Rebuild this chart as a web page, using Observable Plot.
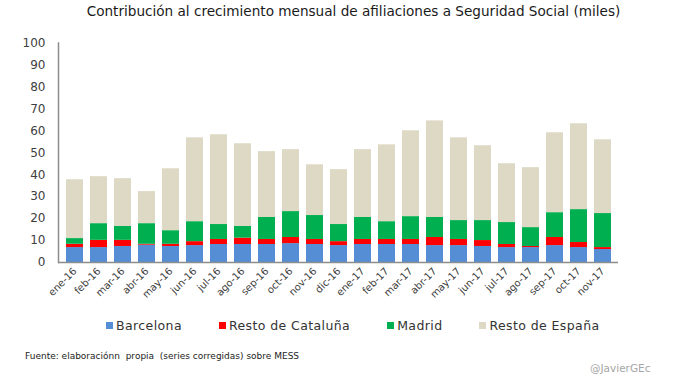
<!DOCTYPE html>
<html><head><meta charset="utf-8">
<script src="https://cdn.jsdelivr.net/npm/d3@7"></script>
<script src="https://cdn.jsdelivr.net/npm/@observablehq/plot@0.6"></script>
<style>
body{margin:0;width:677px;height:378px;position:relative;background:#fff;font-family:"DejaVu Sans",sans-serif;overflow:hidden;color:#262626}
#title{position:absolute;top:3px;left:30px;width:647px;text-align:center;font-size:13.6px;color:#1a1a1a;white-space:nowrap}
#chart{position:absolute;top:25px;left:0}
#legend{position:absolute;top:318px;left:106px;display:flex;gap:37px;font-size:12.5px;color:#333;white-space:nowrap;letter-spacing:0.4px}
#legend .it{display:flex;align-items:center;gap:3px}
#legend .sw{width:7px;height:7px;display:inline-block}
#src{position:absolute;top:351px;left:25px;font-size:9px;color:#222;white-space:nowrap}
#cred{position:absolute;top:362px;left:590px;font-size:10.5px;color:#a6a6a6;white-space:nowrap}
</style></head>
<body>
<div id="title">Contribución al crecimiento mensual de afiliaciones a Seguridad Social (miles)</div>
<div id="chart"></div>
<div id="legend"></div>
<div id="src">Fuente: elaboraciónn&nbsp; propia&nbsp; (series corregidas) sobre MESS</div>
<div id="cred">@JavierGEc</div>
<script>
const months = ["ene-16","feb-16","mar-16","abr-16","may-16","jun-16","jul-16","ago-16","sep-16","oct-16","nov-16","dic-16","ene-17","feb-17","mar-17","abr-17","may-17","jun-17","jul-17","ago-17","sep-17","oct-17","nov-17"];
const series = ["Barcelona","Resto de Cataluña","Madrid","Resto de España"];
const colors = ["#558ED5","#FF0000","#00B050","#DDD9C4"];
const barcelona = [6.8,6.8,7.3,7.9,7.3,7.7,8.2,8.2,8.2,8.6,8.2,7.7,8.2,8.2,8.2,7.7,7.7,7.3,6.8,6.8,7.7,6.8,5.9];
const restoCataluna = [1.5,3.3,2.8,0.4,1.0,1.8,2.3,2.9,2.3,2.8,2.3,1.8,2.3,2.3,2.3,3.7,2.8,2.7,1.4,0.5,3.7,2.3,0.9];
const madrid = [2.6,7.6,6.3,9.4,6.2,9.1,6.8,5.3,10.0,11.8,10.9,7.8,10.0,8.1,10.4,9.1,8.6,9.1,10.0,8.6,11.3,15.0,15.5];
const restoEspana = [26.8,21.4,21.8,14.6,28.2,38.2,40.9,37.7,30.0,28.2,23.1,25.0,30.9,35.0,39.1,44.0,37.7,34.1,26.8,27.3,36.4,39.1,33.6];
const yTicks = [0,10,20,30,40,50,60,70,80,90,100];

const cols = [barcelona, restoCataluna, madrid, restoEspana];
const data = [];
series.forEach((s, i) => months.forEach((m, j) => data.push({month: m, series: s, value: cols[i][j]})));

const chart = Plot.plot({
  width: 677,
  height: 290,
  marginTop: 17.5,
  marginBottom: 53,
  marginLeft: 58,
  marginRight: 59,
  style: {fontFamily: '"DejaVu Sans", sans-serif', background: "transparent"},
  x: {domain: months, paddingInner: 0.3, paddingOuter: 0.15, label: null},
  y: {domain: [0, 100], label: null},
  color: {domain: series, range: colors},
  marks: [
    Plot.barY(data, {x: "month", y: "value", fill: "series", order: series}),
    Plot.axisY({ticks: yTicks, tickSize: 0, tickPadding: 13, fontSize: 12, color: "#404040", label: null}),
    Plot.axisX({tickSize: 0, tickPadding: 7, tickRotate: -45, fontSize: 10, color: "#404040", label: null}),
    Plot.frame({anchor: "left", stroke: "#8c8c8c", strokeWidth: 1.5}),
    Plot.ruleY([0], {stroke: "#8c8c8c", strokeWidth: 1.5})
  ]
});
document.getElementById("chart").appendChild(chart);

const lg = document.getElementById("legend");
series.forEach((s, i) => {
  const it = document.createElement("div");
  it.className = "it";
  const sw = document.createElement("span");
  sw.className = "sw";
  sw.style.background = colors[i];
  const t = document.createElement("span");
  t.textContent = s;
  it.appendChild(sw); it.appendChild(t);
  lg.appendChild(it);
});
</script>
</body></html>
